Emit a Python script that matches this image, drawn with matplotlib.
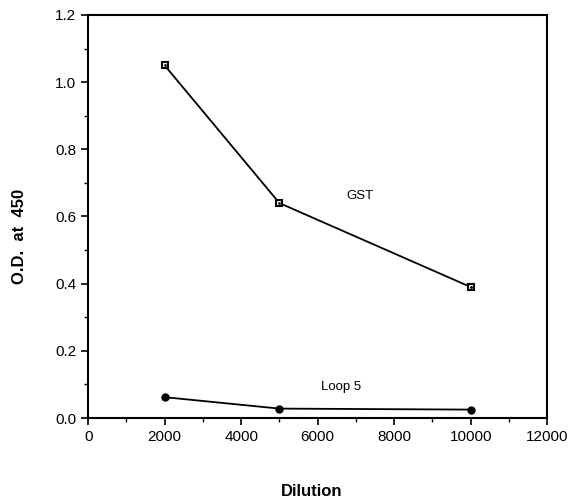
import matplotlib
matplotlib.use("Agg")
import matplotlib.pyplot as plt
from matplotlib.ticker import MultipleLocator, FormatStrFormatter

plt.rcParams['font.family'] = ['Liberation Sans', 'DejaVu Sans']

dilution = [2000, 5000, 10000]
gst = [1.05, 0.64, 0.39]
loop5 = [0.062, 0.028, 0.025]

fig = plt.figure(figsize=(5.76, 5.0), dpi=100)
ax = fig.add_axes([0.153, 0.164, 0.797, 0.806])

ax.plot(dilution, gst, color='black', lw=1.3, marker='s', markersize=5,
        markerfacecolor='white', markeredgecolor='black', markeredgewidth=1.5)
ax.plot(dilution, gst, linestyle='none', marker='.', markersize=2, color='black')
ax.plot(dilution, loop5, color='black', lw=1.3, marker='o', markersize=5,
        markerfacecolor='black', markeredgecolor='black')

ax.text(7100, 0.66, 'GST', fontsize=9.5, ha='center', va='center')
ax.text(6600, 0.092, 'Loop 5', fontsize=9.5, ha='center', va='center')

ax.set_xlim(0, 12000)
ax.set_ylim(0, 1.2)
ax.xaxis.set_major_locator(MultipleLocator(2000))
ax.xaxis.set_minor_locator(MultipleLocator(1000))
ax.yaxis.set_major_locator(MultipleLocator(0.2))
ax.yaxis.set_minor_locator(MultipleLocator(0.1))
ax.yaxis.set_major_formatter(FormatStrFormatter('%.1f'))
ax.tick_params(which='major', direction='out', length=5, width=1.2, labelsize=11)
ax.tick_params(which='minor', direction='out', length=3, width=1)
for s in ax.spines.values():
    s.set_linewidth(1.5)

fig.text(312 / 576, 1 - 491 / 500, 'Dilution', fontsize=12, fontweight='bold',
         ha='center', va='center')
fig.text(20 / 576, 1 - 236 / 500, 'O.D.  at  450', fontsize=12, fontweight='bold',
         ha='center', va='center', rotation=90)

fig.savefig('out.png', dpi=100)
